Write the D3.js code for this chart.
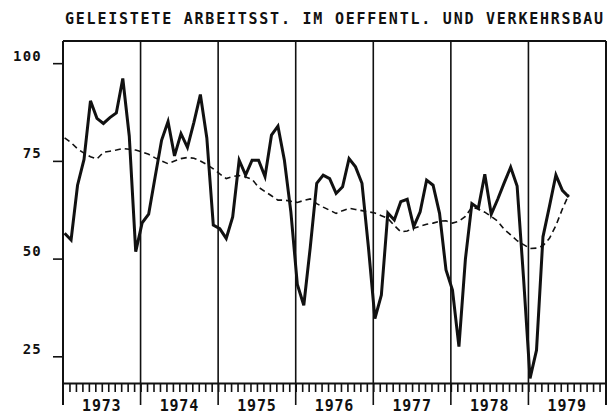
<!DOCTYPE html>
<html>
<head>
<meta charset="utf-8">
<script src="https://cdnjs.cloudflare.com/ajax/libs/d3/7.8.5/d3.min.js"></script>
<style>
	body { margin: 0; background: #fff; }
	text { font-family: "DejaVu Sans Mono", monospace; font-weight: bold; fill: #111; }
</style>
</head>
<body>
<svg id="chart" width="614" height="414"></svg>
<script>
var title = 'GELEISTETE ARBEITSST. IM OEFFENTL. UND VERKEHRSBAU';
var years = [1973, 1974, 1975, 1976, 1977, 1978, 1979];
var yTicks = [25, 50, 75, 100];

// monthly values, Jan 1973 .. Jul 1979
var actual = [
	56.6, 54.9, 68.9, 75.5, 90.5, 86.0, 84.7, 86.2, 87.4, 96.2, 81.5, 51.9,
	59.3, 61.5, 71.0, 80.4, 85.2, 76.4, 82.1, 78.6, 85.0, 92.1, 81.0, 58.7,
	57.8, 55.3, 60.8, 75.3, 71.5, 75.3, 75.3, 71.1, 81.7, 84.0, 75.3, 62.1,
	43.5, 38.2, 53.0, 69.4, 71.5, 70.6, 66.8, 68.5, 75.7, 73.6, 69.4, 53.0,
	34.8, 40.8, 61.8, 60.0, 64.7, 65.3, 58.3, 62.1, 70.2, 68.9, 61.7, 47.2,
	42.1, 27.6, 50.0, 64.2, 63.0, 71.7, 61.5, 65.3, 69.5, 73.5, 68.7, 45.0,
	19.5, 26.7, 55.7, 63.5, 71.5, 67.6, 65.9
];
var trend = [
	81.0, 79.8, 78.2, 77.1, 76.2, 75.6, 77.3, 77.6, 77.9, 78.3, 78.1, 77.9,
	77.4, 76.8, 75.9, 75.1, 74.4, 75.1, 75.7, 76.0, 75.8, 75.1, 74.2, 73.1,
	71.8, 70.6, 71.1, 71.4, 71.0, 70.4, 68.4, 67.3, 66.2, 65.1, 65.1, 64.8,
	64.5, 65.0, 65.4, 64.2, 63.3, 62.5, 61.7, 62.4, 63.0, 62.7, 62.4, 62.1,
	61.8, 61.1, 60.4, 58.6, 57.0, 57.2, 57.9, 58.4, 58.9, 59.2, 59.7, 59.8,
	59.2, 59.7, 60.9, 63.3, 62.8, 62.0, 60.9, 59.7, 57.6, 56.2, 54.7, 53.7,
	52.7, 52.8, 53.4, 55.3, 58.6, 62.8, 66.5
];

var svg = d3.select('#chart');

// plot box (note: "top" would clash with window.top)
var boxLeft = 63, boxRight = 606, boxTop = 41, boxBottom = 383;

var x = d3.scaleLinear()
			.domain([0, years.length * 12])
			.range([boxLeft, boxRight]);
var y = d3.scaleLinear()
			.domain([18.3, 105.8])
			.range([boxBottom, boxTop]);

// title
svg.append('text')
	.attr('x', 65)
	.attr('y', 24)
	.attr('textLength', 538)
	.attr('lengthAdjust', 'spacing')
	.style('font-size', '15px')
	.text(title);

// month ticks + bottom line
svg.append('g')
	.attr('transform', 'translate(0,' + boxBottom + ')')
	.call(d3.axisBottom(x)
			.tickValues(d3.range(1, years.length * 12))
			.tickSize(9)
			.tickSizeOuter(0)
			.tickFormat(''))
	.call(g => g.select('.domain').attr('stroke', '#111').attr('stroke-width', 2.2))
	.call(g => g.selectAll('.tick line').attr('stroke', '#111').attr('stroke-width', 1.6));

// top line
svg.append('line')
	.attr('x1', boxLeft).attr('x2', boxRight)
	.attr('y1', boxTop).attr('y2', boxTop)
	.attr('stroke', '#111')
	.attr('stroke-width', 2);

// year separators and frame sides
svg.selectAll('.sep')
	.data(d3.range(0, years.length + 1))
	.enter()
	.append('line')
		.classed('sep', true)
		.attr('x1', d => x(d * 12)).attr('x2', d => x(d * 12))
		.attr('y1', boxTop).attr('y2', 405)
		.attr('stroke', '#111')
		.attr('stroke-width', d => (d === 0 || d === years.length) ? 2 : 1.6);

// year labels
svg.selectAll('.year')
	.data(years)
	.enter()
	.append('text')
		.classed('year', true)
		.attr('x', (d, i) => x(i * 12 + 6))
		.attr('y', 411)
		.attr('text-anchor', 'middle')
		.style('font-size', '15px')
		.style('letter-spacing', '0.8px')
		.text(d => d);

// y ticks
svg.selectAll('.ytick')
	.data(yTicks)
	.enter()
	.append('line')
		.classed('ytick', true)
		.attr('x1', 53).attr('x2', boxLeft)
		.attr('y1', d => y(d)).attr('y2', d => y(d))
		.attr('stroke', '#111')
		.attr('stroke-width', 1.6);

svg.selectAll('.ylabel')
	.data(yTicks)
	.enter()
	.append('text')
		.classed('ylabel', true)
		.attr('x', 42)
		.attr('y', d => y(d) - 3)
		.attr('text-anchor', 'end')
		.style('font-size', '14px')
		.style('letter-spacing', '1.2px')
		.text(d => d);

var line = d3.line()
				.x((d, i) => x(i + 0.25))
				.y(d => y(d));

svg.append('path')
	.datum(trend)
	.attr('d', line)
	.attr('fill', 'none')
	.attr('stroke', '#111')
	.attr('stroke-width', 1.6)
	.attr('stroke-dasharray', '6,4');

svg.append('path')
	.datum(actual)
	.attr('d', line)
	.attr('fill', 'none')
	.attr('stroke', '#111')
	.attr('stroke-width', 3)
	.attr('stroke-linejoin', 'miter');
</script>
</body>
</html>
